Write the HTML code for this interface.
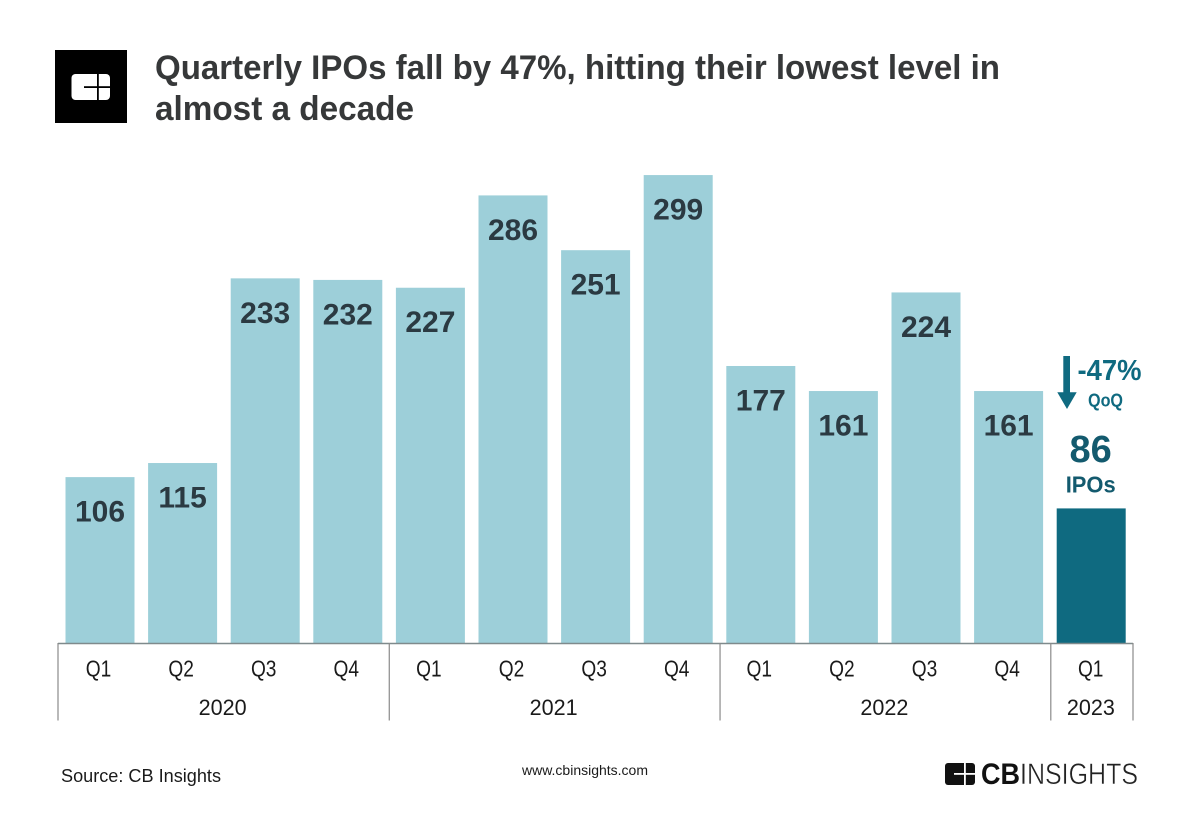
<!DOCTYPE html>
<html lang="en">
<head>
<meta charset="utf-8">
<title>Quarterly IPOs</title>
<style>
html,body{margin:0;padding:0;background:#fff;}
svg{display:block;font-family:"Liberation Sans",Arial,sans-serif;}
</style>
</head>
<body>
<svg id="chart" width="1200" height="833" viewBox="0 0 1200 833" xmlns="http://www.w3.org/2000/svg">
  <rect width="1200" height="833" fill="#ffffff"/>
  <g>
    <rect x="55" y="50" width="72" height="73" fill="#000"/>
    <rect x="71.5" y="74" width="38.5" height="26" rx="4" fill="#fff"/>
    <rect x="84" y="86.2" width="26" height="1.8" fill="#000"/>
    <rect x="97" y="74" width="1.8" height="26" fill="#000"/>
  </g>
  <text x="155" y="79" font-size="34" font-weight="700" fill="#363839" textLength="845" lengthAdjust="spacingAndGlyphs">Quarterly IPOs fall by 47%, hitting their lowest level in</text>
  <text x="155" y="120" font-size="34" font-weight="700" fill="#363839" textLength="259" lengthAdjust="spacingAndGlyphs">almost a decade</text>
  <g id="bars"></g>
  <g id="axis"></g>
  <g>
    <rect x="1063.3" y="356" width="6.7" height="37" fill="#0f6a80"/>
    <polygon points="1057.3,392.3 1076.7,392.3 1067,409" fill="#0f6a80"/>
    <text x="1077.5" y="380" font-size="29" font-weight="700" fill="#0f6a80" textLength="64" lengthAdjust="spacingAndGlyphs">-47%</text>
    <text x="1105.5" y="406.7" font-size="18" font-weight="700" fill="#0f6a80" text-anchor="middle" textLength="35" lengthAdjust="spacingAndGlyphs">QoQ</text>
  </g>
  <text x="61" y="782" font-size="18" fill="#1a1a1a" textLength="160" lengthAdjust="spacingAndGlyphs">Source: CB Insights</text>
  <text x="522" y="775" font-size="14" fill="#1a1a1a" textLength="126" lengthAdjust="spacingAndGlyphs">www.cbinsights.com</text>
  <g>
    <rect x="945" y="763" width="30" height="22" rx="3" fill="#111"/>
    <rect x="954" y="773" width="21" height="1.8" fill="#fff"/>
    <rect x="964" y="763" width="1.8" height="22" fill="#fff"/>
    <text x="981" y="784" font-size="30" font-weight="700" fill="#111" textLength="39" lengthAdjust="spacingAndGlyphs">CB</text>
    <text x="1020" y="784" font-size="30" fill="#222" stroke="#fff" stroke-width="0.5" textLength="118" lengthAdjust="spacingAndGlyphs">INSIGHTS</text>
  </g>
</svg>
<script>
var quarters = ["Q1","Q2","Q3","Q4","Q1","Q2","Q3","Q4","Q1","Q2","Q3","Q4","Q1"];
var ipoCounts = [106,115,233,232,227,286,251,299,177,161,224,161,86];
var years = ["2020","2021","2022","2023"];
var quartersPerYear = [4,4,4,1];

var NS = "http://www.w3.org/2000/svg";
var baseY = 643;
var pxPerUnit = 1.565;
var firstBarX = 65.5;
var barStep = 82.6;
var barW = 69;
var axisLeft = 58;
var axisRight = 1133;

function xScale(i){ return firstBarX + i * barStep; }
function yScale(v){ return baseY - v * pxPerUnit; }
function make(tag, attrs, parent, text){
  var el = document.createElementNS(NS, tag);
  for (var k in attrs) el.setAttribute(k, attrs[k]);
  if (text !== undefined) el.textContent = text;
  parent.appendChild(el);
  return el;
}

var barsG = document.getElementById("bars");
var axisG = document.getElementById("axis");
var lastIndex = ipoCounts.length - 1;

ipoCounts.forEach(function(v, i){
  var x = xScale(i), y = yScale(v), isLast = i === lastIndex;
  var bar = make("rect", {x:x, y:y, width:barW, height:baseY - y, fill: isLast ? "#0f6a80" : "#9dcfd9"}, barsG);
  
  
  var cx = x + barW / 2;
  var labelY = isLast ? y - 46.4 : y + 44.5;
  var label = make("text", {
    x: isLast ? cx - 0.5 : cx, y:labelY, "text-anchor":"middle", "font-weight":"700",
    "font-size": isLast ? 38 : 30, fill: isLast ? "#135a6e" : "#2b3a42"
  }, barsG, String(v));
  
  
  if (isLast) {
    var unit = make("text", {
      x:cx - 0.5, y:y - 15.7, "text-anchor":"middle", "font-weight":"700",
      "font-size":23, fill:"#135a6e", textLength:50, lengthAdjust:"spacingAndGlyphs"
    }, barsG, "IPOs");
    
    
  }
  var q = make("text", {
    x:cx - 1.5 + (i === lastIndex ? 1 : 0), y:676.5, "text-anchor":"middle", "font-size":23, fill:"#1a1a1a",
    textLength:25.5, lengthAdjust:"spacingAndGlyphs"
  }, axisG, quarters[i]);
  
  
});

var axisLine = make("line", {x1:axisLeft, x2:axisRight, y1:643.5, y2:643.5, stroke:"#7f8a8c", "stroke-width":1.5}, axisG);



var slotW = (axisRight - axisLeft) / 13;
var tickStart = axisLeft;
var seen = 0;
function drawTick(x){
  var t = make("line", {x1:x, x2:x, y1:643, y2:720.5, stroke:"#8a8a8a", "stroke-width":1.2}, axisG);
  
  
}
drawTick(axisLeft);
years.forEach(function(yr, j){
  seen += quartersPerYear[j];
  var tickEnd = axisLeft + seen * slotW + (j === years.length - 1 ? 0 : 0.5);
  drawTick(tickEnd);
  var yl = make("text", {
    x:(tickStart + tickEnd) / 2 - 1, y:715, "text-anchor":"middle", "font-size":22.5, fill:"#1a1a1a",
    textLength:48, lengthAdjust:"spacingAndGlyphs"
  }, axisG, yr);
  
  
  tickStart = tickEnd;
});
</script>
</body>
</html>
